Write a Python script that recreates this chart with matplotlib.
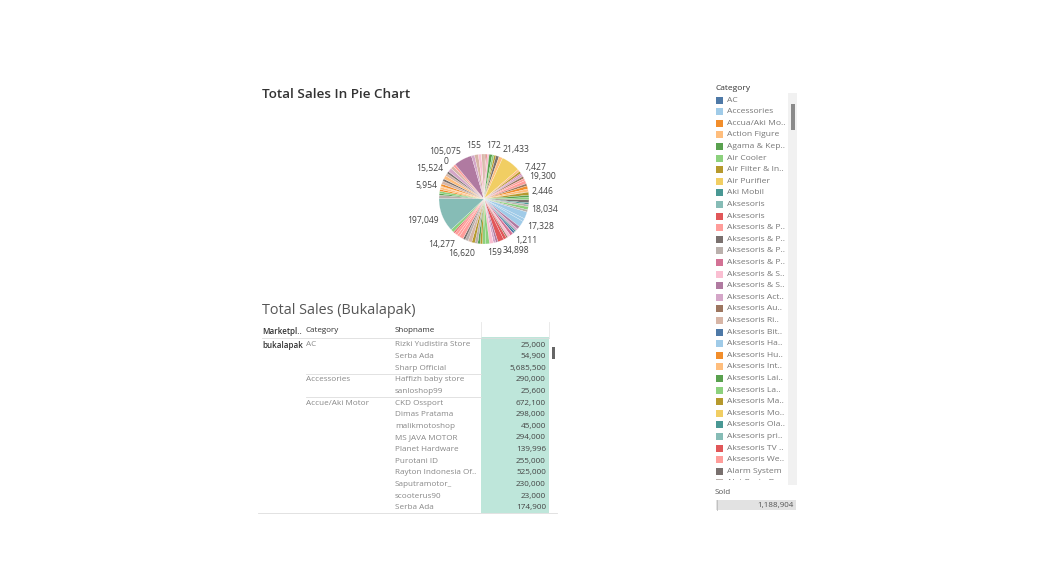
import matplotlib.pyplot as plt
from matplotlib.patches import Rectangle
import numpy as np

plt.rcParams['font.family'] = ['Open Sans', 'DejaVu Sans']

# Tableau 20 palette, keyed by short names
PAL = {
    'blue': '#4E79A7', 'lblue': '#A0CBE8', 'orange': '#F28E2B', 'lorange': '#FFBE7D',
    'green': '#59A14F', 'lgreen': '#8CD17D', 'olive': '#B6992D', 'yellow': '#F1CE63',
    'teal': '#499894', 'lteal': '#86BCB6', 'red': '#E15759', 'pink': '#FF9D9A',
    'gray': '#79706E', 'lgray': '#BAB0AC', 'pinkp': '#D37295', 'lpink': '#FABFD2',
    'purple': '#B07AA1', 'lpurple': '#D4A6C8', 'brown': '#9D7660', 'lbrown': '#D7B5A6',
}

# pie slices, clockwise from 12 o'clock (sum of sold per category)
slice_values = [13000, 172, 5400, 11200, 17900, 11200, 11200, 17700, 21433, 110800,
                13400, 13400, 7427, 13400, 13400, 13400, 19300, 13400, 17900, 16100,
                2446, 17900, 13400, 13400, 16800, 9000, 13400, 18034, 13400, 40500,
                17328, 35800, 17900, 13400, 9000, 13000, 1211, 17900, 17900, 9000,
                17700, 34898, 13400, 13900, 159, 22400, 22400, 17900, 13400, 13900,
                16620, 17900, 22400, 17900, 13400, 24900, 14277, 17900, 9000, 19700,
                197049, 17900, 9000, 13400, 10500, 13400, 5954, 13400, 17900, 13400,
                20600, 15524, 13400, 23500, 0, 17900, 14600, 105075, 17900, 22400,
                19000, 155, 13300]
slice_colors = ['lbrown', 'red', 'red', 'lpink', 'green', 'lgreen', 'olive', 'gray', 'lorange', 'yellow',
                'lorange', 'olive', 'pinkp', 'lpurple', 'brown', 'pink', 'pink', 'brown', 'orange', 'lorange',
                'orange', 'olive', 'green', 'lgreen', 'gray', 'teal', 'lgray', 'lgreen', 'lgray', 'lblue',
                'lblue', 'lblue', 'purple', 'lpurple', 'teal', 'blue', 'red', 'pinkp', 'lpink', 'brown',
                'red', 'red', 'purple', 'lpurple', 'pink', 'lpink', 'lgreen', 'lgreen', 'olive', 'green',
                'lgray', 'olive', 'lbrown', 'lgray', 'gray', 'pink', 'pink', 'pink', 'red', 'lgreen',
                'lteal', 'lgray', 'green', 'lgreen', 'orange', 'lorange', 'lorange', 'orange', 'lbrown', 'gray',
                'lorange', 'lbrown', 'gray', 'lpurple', 'lpurple', 'lbrown', 'pink', 'purple', 'lpurple', 'lbrown',
                'lpink', 'lbrown', 'lbrown']
slice_labels = {1: '172', 8: '21,433', 12: '7,427', 16: '19,300', 20: '2,446', 27: '18,034',
                30: '17,328', 36: '1,211', 41: '34,898', 44: '159', 50: '16,620', 56: '14,277',
                60: '197,049', 66: '5,954', 71: '15,524', 74: '0', 77: '105,075', 81: '155'}

# table
tbl_category = ['AC', '', '', 'Accessories', '', 'Accue/Aki Motor', '', '', '', '', '', '', '', '', '']
tbl_shop = ['Rizki Yudistira Store', 'Serba Ada', 'Sharp Official', 'Haffizh baby store', 'sanloshop99',
            'CKD Ossport', 'Dimas Pratama', 'malikmotoshop', 'MS JAVA MOTOR', 'Planet Hardware',
            'Purotani ID', 'Rayton Indonesia Of..', 'Saputramotor_', 'scooterus90', 'Serba Ada']
tbl_sales = [25000, 54900, 5685500, 290000, 25600, 672100, 298000, 45000, 294000, 139996,
             255000, 525000, 230000, 23000, 174900]

# legend
legend_names = ['AC', 'Accessories', 'Accua/Aki Mo..', 'Action Figure', 'Agama & Kep..', 'Air Cooler',
                'Air Filter & In..', 'Air Purifier', 'Aki Mobil', 'Aksesoris', 'Aksesoris',
                'Aksesoris & P..', 'Aksesoris & P..', 'Aksesoris & P..', 'Aksesoris & P..',
                'Aksesoris & S..', 'Aksesoris & S..', 'Aksesoris Act..', 'Aksesoris Au..',
                'Aksesoris Ri..', 'Aksesoris Bit..', 'Aksesoris Ha..', 'Aksesoris Hu..',
                'Aksesoris Int..', 'Aksesoris Lai..', 'Aksesoris La..', 'Aksesoris Ma..',
                'Aksesoris Mo..', 'Aksesoris Ola..', 'Aksesoris pri..', 'Aksesoris TV ..',
                'Aksesoris We..', 'Alarm System', 'Alat Pesta D..']
legend_order = ['blue', 'lblue', 'orange', 'lorange', 'green', 'lgreen', 'olive', 'yellow', 'teal',
                'lteal', 'red', 'pink', 'gray', 'lgray', 'pinkp', 'lpink', 'purple', 'lpurple',
                'brown', 'lbrown']
sold_max = '1,188,904'

W, H = 1054, 583
fig = plt.figure(figsize=(W / 100, H / 100), dpi=100)
ax = fig.add_axes([0, 0, 1, 1])
ax.set_xlim(0, W)
ax.set_ylim(H, 0)
ax.axis('off')

# titles
ax.text(262, 95, 'Total Sales In Pie Chart', fontsize=9.7, fontweight='semibold',
        color='#333333', va='center')
ax.text(262, 311, 'Total Sales (Bukalapak)', fontsize=10.4, color='#555555', va='center')

# pie
cx, cy, R = 484, 199, 45
half = 60
pax = fig.add_axes([(cx - half) / W, (H - cy - half) / H, 2 * half / W, 2 * half / H])
wedges, _ = pax.pie(slice_values, colors=[PAL[c] for c in slice_colors], startangle=90,
                    counterclock=False, radius=1,
                    wedgeprops=dict(edgecolor='white', linewidth=0.15))
pax.set_xlim(-half / R, half / R)
pax.set_ylim(-half / R, half / R)
pax.set_aspect('equal')
pax.axis('off')
ha_fix = {'155': 'right', '172': 'left', '16,620': 'right', '159': 'center'}
for i, lab in slice_labels.items():
    w = wedges[i]
    ang = np.deg2rad((w.theta1 + w.theta2) / 2)
    x, y = np.cos(ang), np.sin(ang)
    ha = 'left' if x > 0.25 else ('right' if x < -0.25 else 'center')
    ha = ha_fix.get(lab, ha)
    va = 'bottom' if y > 0.3 else ('top' if y < -0.3 else 'center')
    r = 1.12 if y < -0.8 else 1.08
    pax.text(r * x, r * y, lab, fontsize=6.2, color='#444444', ha=ha, va=va)

# table
row0, dy = 345, 11.62
n = len(tbl_shop)
ax.add_patch(Rectangle((481, 337), 68, row0 + (n - 0.5) * dy - 337, color='#bee6da', lw=0))
ax.plot([481, 481], [322, 337], color='#e6e6e6', lw=0.6)
ax.plot([549, 549], [322, 337], color='#e6e6e6', lw=0.6)
ax.plot([262, 549], [337.5, 337.5], color='#dddddd', lw=0.6)
ax.text(262, 331, 'Marketpl..', fontsize=5.8, fontweight='semibold', color='#333333', va='center')
ax.text(306, 331, 'Category', fontsize=5.8, color='#333333', va='center')
ax.text(395, 331, 'Shopname', fontsize=5.8, color='#333333', va='center')
ax.text(262, row0, 'bukalapak', fontsize=5.8, fontweight='semibold', color='#333333', va='center')
for i in range(n):
    y = row0 + i * dy
    if tbl_category[i]:
        ax.text(306, y, tbl_category[i], fontsize=5.9, color='#888888', va='center')
        if i > 0:
            ax.plot([306, 481], [y - dy / 2, y - dy / 2], color='#dddddd', lw=0.6)
    ax.text(395, y, tbl_shop[i], fontsize=5.9, color='#888888', va='center')
    ax.text(546, y, f'{tbl_sales[i]:,}', fontsize=5.9, color='#444444', va='center', ha='right')
ax.plot([258, 557], [row0 + (n - 0.5) * dy, row0 + (n - 0.5) * dy], color='#dddddd', lw=0.6)
ax.add_patch(Rectangle((551.5, 347), 3, 12, color='#666666', lw=0))

# category legend
ax.text(715, 88, 'Category', fontsize=6.0, color='#333333', va='center')
ax.add_patch(Rectangle((788, 93), 9, 392, color='#f1f1f1', lw=0))
ax.add_patch(Rectangle((790.5, 104), 4, 26, color='#8a8a8a', lw=0))
clip = Rectangle((700, 93), 88, 387, transform=ax.transData, visible=False)
ax.add_patch(clip)
ly0, ldy = 100, 11.6
for i, name in enumerate(legend_names):
    y = ly0 + i * ldy
    sw = ax.add_patch(Rectangle((716, y - 3.5), 7, 7, color=PAL[legend_order[i % 20]], lw=0))
    t = ax.text(727, y, name, fontsize=6.1, color='#777777', va='center', clip_on=True)
    sw.set_clip_path(clip)
    t.set_clip_path(clip)

# sold size legend
ax.text(715, 493, 'Sold', fontsize=5.8, color='#555555', va='center')
ax.add_patch(Rectangle((716, 500), 80, 10, color='#e2e2e2', lw=0))
ax.plot([717, 717], [500, 510], color='#bbbbbb', lw=0.6)
ax.text(794, 505, sold_max, fontsize=5.8, color='#555555', va='center', ha='right')

fig.savefig('out.png', dpi=100)
